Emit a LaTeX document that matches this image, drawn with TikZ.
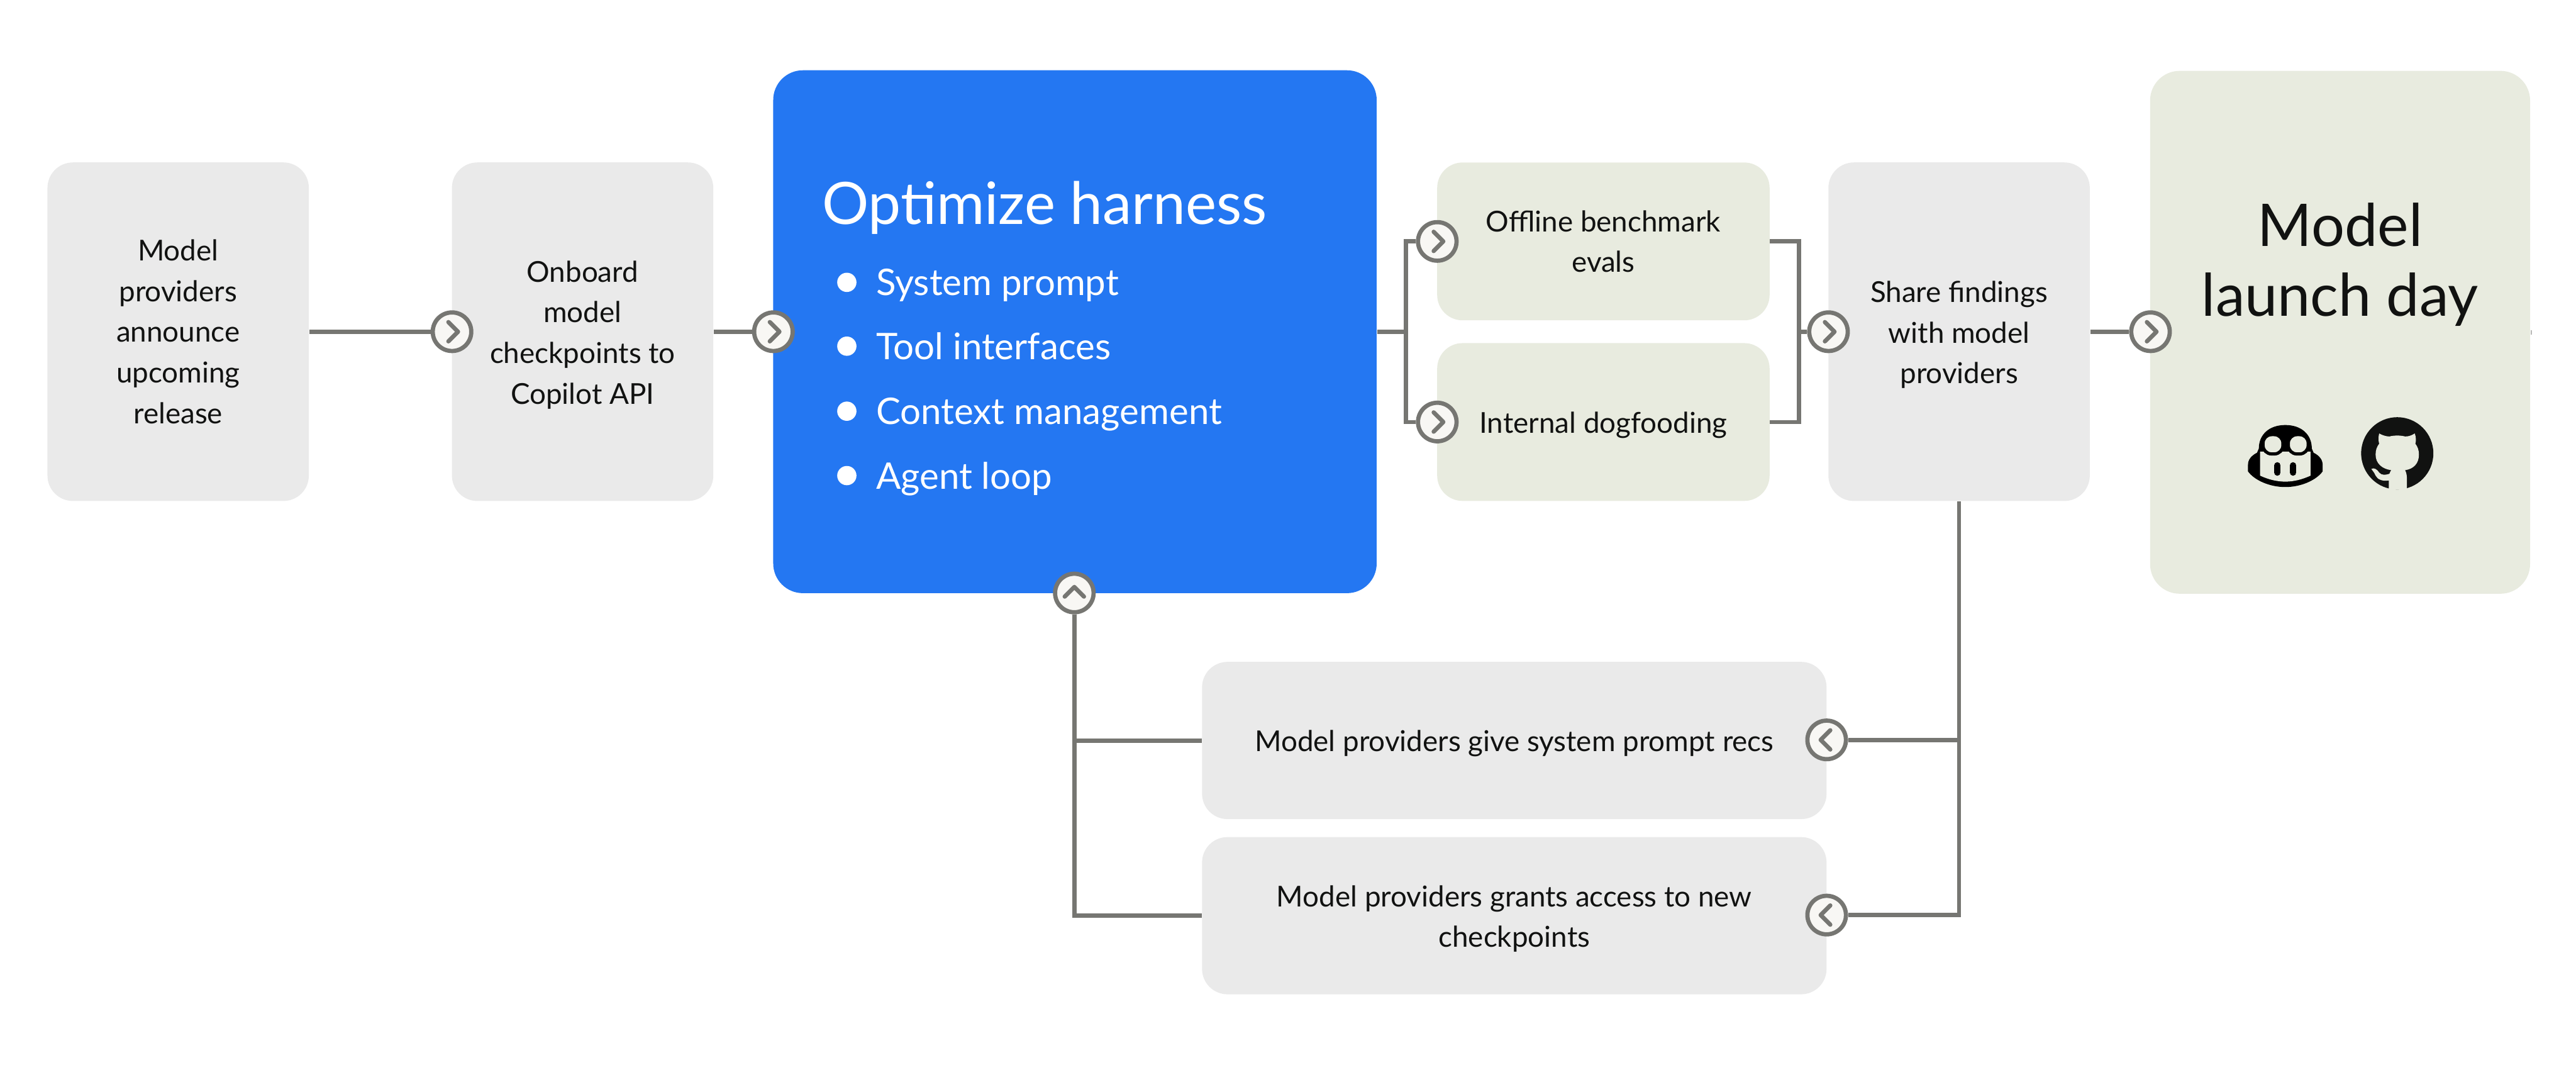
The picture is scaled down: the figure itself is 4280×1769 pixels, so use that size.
\documentclass[tikz,border=0pt]{standalone}
\usepackage{fontspec}
\setmainfont{Lato}
\definecolor{boxgray}{HTML}{EAEAEA}
\definecolor{boxgreen}{HTML}{E8EBDF}
\definecolor{boxblue}{HTML}{2477F2}
\definecolor{linegray}{HTML}{767672}
\definecolor{markfill}{HTML}{F8F7F4}
\definecolor{inkblack}{HTML}{111211}
\newcommand{\lowline}{\rule{0pt}{13pt}}
\tikzset{
	stepbox/.style={rounded corners=12pt,minimum width=434*0.1mm,minimum height=562*0.1mm,align=center,inner sep=0pt,text=inkblack,font=\fontsize{13.6}{19.2}\selectfont,execute at begin node={\rule{0pt}{13pt}}},
	graybox/.style={stepbox,fill=boxgray},
	greenbox/.style={stepbox,fill=boxgreen,minimum width=552*0.1mm,minimum height=262*0.1mm},
	widebox/.style={stepbox,fill=boxgray,minimum width=1037*0.1mm,minimum height=261*0.1mm},
	link/.style={draw=linegray,line width=2pt},
	marker/.style={circle,draw=linegray,fill=markfill,line width=2pt,minimum size=64*0.1mm,inner sep=0pt},
	chevron/.style={draw=linegray,line width=2pt,line cap=round,line join=round},
	itemtext/.style={text=white,anchor=base west,inner sep=0pt,font=\fontsize{17.3}{20}\selectfont},
}
\begin{document}
\begin{tikzpicture}[x=0.01cm,y=-0.01cm]
	\useasboundingbox (0,0) rectangle (4280,1769);

	%boxes
	\node[graybox] (announce) at (296,551) {Model\\providers\\announce\\upcoming\\release};
	\node[graybox] (onboard) at (968,551) {\lowline Onboard\\model\\checkpoints to\\Copilot API};
	\node[stepbox,fill=boxblue,minimum width=1002*0.1mm,minimum height=868*0.1mm,rounded corners=14pt] (harness) at (1786,551) {};
	\node[greenbox] (offline) at (2664,401) {Offline benchmark\\evals};
	\node[greenbox] (dogfood) at (2664,701) {Internal dogfooding};
	\node[graybox] (share) at (3255,551) {\lowline Share findings\\with model\\providers};
	\node[stepbox,fill=boxgreen,minimum width=631*0.1mm,minimum height=868*0.1mm,rounded corners=14pt,anchor=north] (launch) at (3888,117) {};
	\node[widebox] (recs) at (2516,1230) {Model providers give system prompt recs};
	\node[widebox] (access) at (2516,1521) {\lowline Model providers grants access to new\\checkpoints};

	%texts of the big boxes
	\node[text=white,anchor=base west,inner sep=0pt,font=\fontsize{27.6}{30}\selectfont] (title) at (1365,372) {Optimize harness};
	\foreach \n/\k/\t in {a/491/System prompt,b/597/Tool interfaces,c/705/Context management,d/812/Agent loop} {
		\node[itemtext] (item\n) at (1455,\k) {\t};
		\fill[white] (1407,\k-22) circle (16);}
	\node[text=inkblack,align=center,inner sep=0pt,font=\fontsize{27.8}{33}\selectfont] (launchtext) at (3888,439) {Model\\launch day};

	%markers
	\foreach \n/\x/\y in {ma/751/551,mb/1285/551,mc/2388/401,md/2388/701,me/3038/551,mf/3573/551} {
		\node[marker] (\n) at (\x,\y) {};
		\draw[chevron] (\x-6,\y-16) -- (\x+10,\y) -- (\x-6,\y+16);}
	\foreach \n/\x/\y in {mg/3035/1229,mh/3035/1520} {
		\node[marker] (\n) at (\x,\y) {};
		\draw[chevron] (\x+6,\y-16) -- (\x-10,\y) -- (\x+6,\y+16);}
	\node[marker] (mi) at (1785,985) {};
	\draw[chevron] (1769,991) -- (1785,975) -- (1801,991);

	%connectors
	\coordinate (jl) at (2336,551);
	\coordinate (jr) at (2989,551);
	\coordinate (jb) at (share.south |- mg);
	\coordinate (jf) at (mi |- recs);
	\draw[link] (announce) -- (ma);
	\draw[link] (onboard) -- (mb);
	\draw[link] (harness.east |- jl) -- (jl);
	\draw[link] (mc) -| (jl) |- (md);
	\draw[link] (offline) -| (jr) |- (dogfood);
	\draw[link] (jr) -- (me);
	\draw[link] (share) -- (mf);
	\draw[link] (share.south) |- (mh);
	\draw[link] (jb) -- (mg);
	\draw[link] (mi) |- (access);
	\draw[link] (jf) -- (recs);
	\draw[link,draw=linegray!50] (launch.east) -- ++(2,0);

	%copilot icon
	\fill[black] (3797,706) .. controls (3770,706) and (3753,722) .. (3753,745) -- (3750,752) .. controls (3740,757) and (3735,764) .. (3735,772) -- (3735,783) .. controls (3745,797) and (3770,809) .. (3797,809) .. controls (3824,809) and (3849,797) .. (3859,783) -- (3859,772) .. controls (3859,764) and (3854,757) .. (3844,752) -- (3841,745) .. controls (3841,722) and (3824,706) .. (3797,706) -- cycle;
	\fill[boxgreen] (3755,750) -- (3839,750) -- (3839,790) .. controls (3824,797) and (3810,800) .. (3797,800) .. controls (3784,800) and (3770,797) .. (3755,790) -- cycle;
	\filldraw[fill=boxgreen,draw=black,line width=1.5pt,rounded corners=4pt] (3760,722) rectangle (3793,754);
	\filldraw[fill=boxgreen,draw=black,line width=1.5pt,rounded corners=4pt] (3802,722) rectangle (3835,754);
	\draw[black,line width=3pt,line cap=round] (3784,773) -- (3784,785);
	\draw[black,line width=3pt,line cap=round] (3810,773) -- (3810,785);

	%github icon
	\fill[inkblack] (3983,753) circle (60);
	\fill[boxgreen] (3953,720) .. controls (3960,724) and (3966,725) .. (3970,725) .. controls (3978,723) and (3988,723) .. (3996,725) .. controls (4001,725) and (4006,724) .. (4012,720) .. controls (4015,728) and (4014,734) .. (4013,737) .. controls (4017,742) and (4019,748) .. (4019,755) .. controls (4019,770) and (4010,779) .. (3996,781) .. controls (3998,785) and (3999,789) .. (3999,795) -- (3999,813) -- (3969,813) -- (3969,798) .. controls (3958,800) and (3950,796) .. (3947,790) .. controls (3945,785) and (3942,782) .. (3940,779) .. controls (3944,776) and (3950,780) .. (3953,785) .. controls (3957,790) and (3964,789) .. (3970,787) .. controls (3971,784) and (3972,782) .. (3973,781) .. controls (3958,779) and (3947,770) .. (3947,755) .. controls (3947,748) and (3949,742) .. (3953,737) .. controls (3952,734) and (3951,728) .. (3953,720) -- cycle;
\end{tikzpicture}
\end{document}
